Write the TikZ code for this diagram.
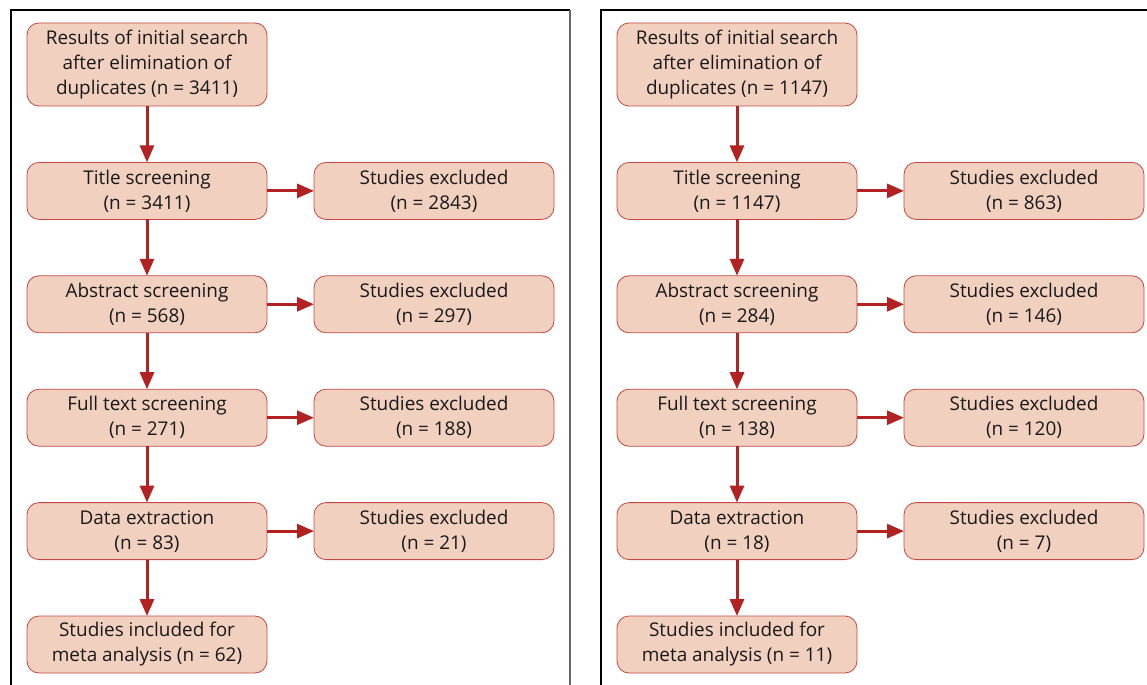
\documentclass[tikz,border=0pt]{standalone}
\usepackage{fontspec}
\setmainfont{Open Sans}
\usetikzlibrary{positioning, arrows.meta}

\definecolor{boxfill}{RGB}{241,208,192}
\definecolor{boxline}{RGB}{196,72,68}
\definecolor{flowred}{RGB}{178,34,34}

\begin{document}
\begin{tikzpicture}[x=0.75pt, y=-0.75pt,
					node distance=42.3pt and 35.25pt,
					font=\fontsize{14.2}{18.75}\selectfont,
					stage/.style={draw=boxline, fill=boxfill, rounded corners=9pt, semithick,
						align=center, minimum width=180pt, minimum height=42.75pt,
						inner sep=2pt, outer sep=0pt, text=black!90},
					flow/.style={draw=flowred, line width=2.25pt,
						-{Triangle[length=12.75pt, width=10.5pt]}},
					frame/.style={draw=black, line width=0.8pt}]

	\clip (0,0) rectangle (1147,685);
	\draw[frame] (570,700) -- (11,700) -- (11,10) -- (570,10);
	\draw[frame, draw=black!60] (570,10) -- (570,700);
	\draw[frame] (601,10) rectangle (1160,700);

	% left panel
	\node[stage, minimum height=62.25pt] (start1) at (147,64.5) {Results of initial search\\after elimination of\\duplicates (n = 3411)};
	\node[stage, below=of start1] (title1) {Title screening\\(n = 3411)};
	\node[stage, below=of title1] (abs1) {Abstract screening\\(n = 568)};
	\node[stage, below=of abs1] (full1) {Full text screening\\(n = 271)};
	\node[stage, below=of full1] (data1) {Data extraction\\(n = 83)};
	\node[stage, below=of data1] (incl1) {Studies included for\\meta analysis (n = 62)};
	\node[stage, right=of title1] (exA1) {Studies excluded\\(n = 2843)};
	\node[stage, right=of abs1] (exB1) {Studies excluded\\(n = 297)};
	\node[stage, right=of full1] (exC1) {Studies excluded\\(n = 188)};
	\node[stage, right=of data1] (exD1) {Studies excluded\\(n = 21)};

	\draw[flow] (start1) -- (title1);
	\draw[flow] (title1) -- (abs1);
	\draw[flow] (abs1) -- (full1);
	\draw[flow] (full1) -- (data1);
	\draw[flow] (data1) -- (incl1);
	\draw[flow] (title1) -- (exA1);
	\draw[flow] (abs1) -- (exB1);
	\draw[flow] (full1) -- (exC1);
	\draw[flow] (data1) -- (exD1);

	% right panel
	\node[stage, minimum height=62.25pt] (start2) at (737,64.5) {Results of initial search\\after elimination of\\duplicates (n = 1147)};
	\node[stage, below=of start2] (title2) {Title screening\\(n = 1147)};
	\node[stage, below=of title2] (abs2) {Abstract screening\\(n = 284)};
	\node[stage, below=of abs2] (full2) {Full text screening\\(n = 138)};
	\node[stage, below=of full2] (data2) {Data extraction\\(n = 18)};
	\node[stage, below=of data2] (incl2) {Studies included for\\meta analysis (n = 11)};
	\node[stage, right=of title2] (exA2) {Studies excluded\\(n = 863)};
	\node[stage, right=of abs2] (exB2) {Studies excluded\\(n = 146)};
	\node[stage, right=of full2] (exC2) {Studies excluded\\(n = 120)};
	\node[stage, right=of data2] (exD2) {Studies excluded\\(n = 7)};

	\draw[flow] (start2) -- (title2);
	\draw[flow] (title2) -- (abs2);
	\draw[flow] (abs2) -- (full2);
	\draw[flow] (full2) -- (data2);
	\draw[flow] (data2) -- (incl2);
	\draw[flow] (title2) -- (exA2);
	\draw[flow] (abs2) -- (exB2);
	\draw[flow] (full2) -- (exC2);
	\draw[flow] (data2) -- (exD2);
\end{tikzpicture}
\end{document}
